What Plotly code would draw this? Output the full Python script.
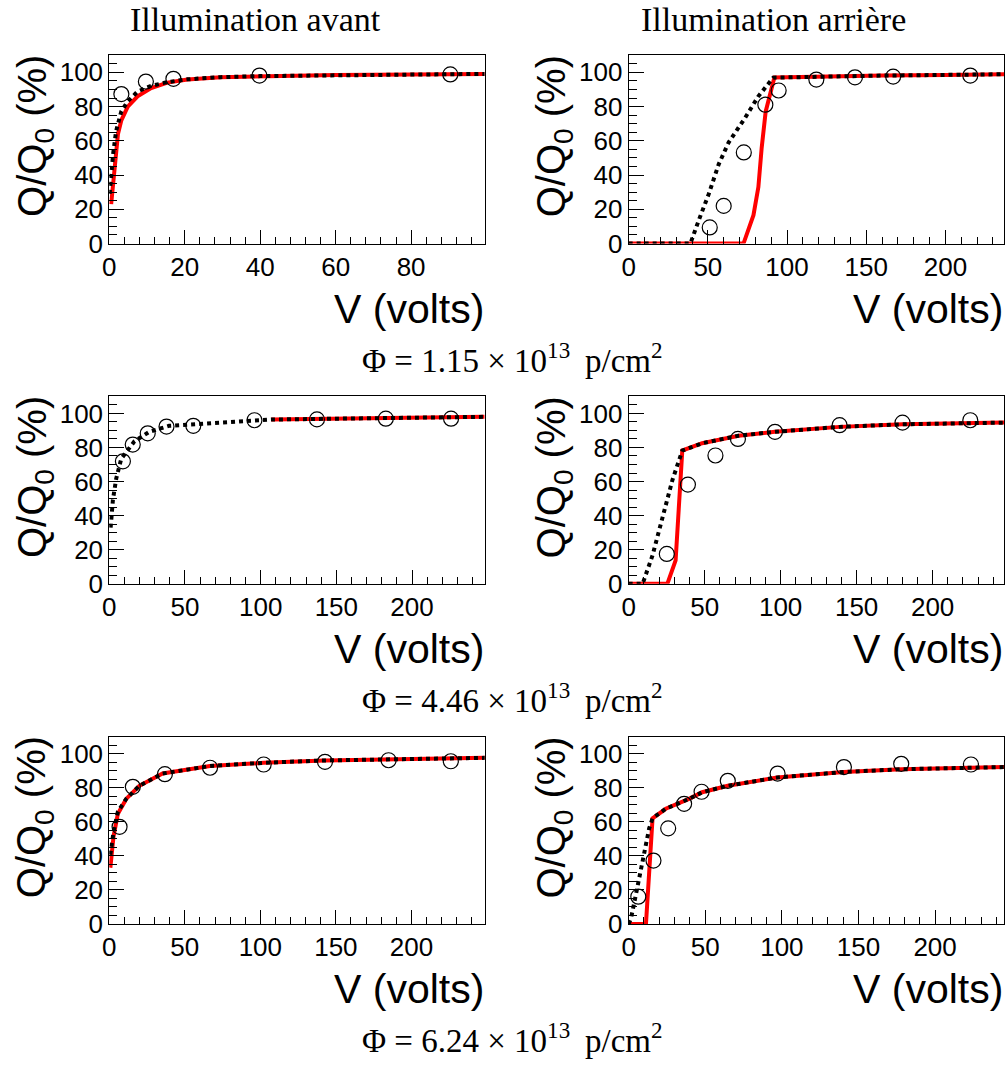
import plotly.graph_objects as go

W, H = 1008, 1074

# ---------------- data ----------------
col_titles = ["Illumination avant", "Illumination arrière"]
fluences = ["1.15", "4.46", "6.24"]

# Row 1, front
A_data_V = [3.2, 9.7, 17.0, 39.8, 90.4]
A_data_Q = [87.3, 94.6, 96.2, 98.1, 98.8]
A_red_V = [0.5, 1.6, 2.3, 3.2, 4.9, 7.5, 11.1, 15.4, 20.7, 29.5, 40, 60, 80, 99.5]
A_red_Q = [23, 50, 64, 72, 80, 86, 90.8, 94, 95.8, 97.2, 97.8, 98.4, 98.8, 99.1]
A_blk_V = [0.1, 0.5, 1.0, 1.8, 3.2, 4.9, 7.5, 11.1, 15.4, 20.7, 29.5, 40, 60, 80, 99.5]
A_blk_Q = [29, 40.6, 52, 65.7, 77.3, 83.1, 88.8, 92.1, 94.3, 95.9, 97.2, 97.8, 98.4, 98.8, 99.1]

# Row 1, rear
B_data_V = [51.2, 60.0, 72.7, 86.3, 94.7, 118.5, 142.9, 167, 215.7]
B_data_Q = [9.4, 22.0, 53.2, 81.1, 89.4, 95.8, 97.1, 97.5, 98.1]
B_red_V = [0, 72.5, 78.8, 81.9, 84.0, 86.5, 92, 120, 160, 200, 237]
B_red_Q = [0, 0, 16.6, 33, 56, 77, 97, 97.6, 98.1, 98.5, 98.9]
B_blk_V = [0, 39, 44.3, 50.6, 56.9, 63.1, 73.5, 81.9, 91.3, 120, 160, 200, 237]
B_blk_Q = [0, 0, 13.7, 29, 46.4, 59, 73.4, 86, 96.9, 97.6, 98.1, 98.5, 98.9]

# Row 2, front
C_data_V = [9.0, 15.5, 25.4, 37.8, 55.5, 95.9, 137.2, 182.7, 225.8]
C_data_Q = [71.9, 81.7, 88.3, 92.3, 92.7, 96.0, 96.5, 96.9, 96.9]
C_red_V = [107, 150, 200, 248]
C_red_Q = [96.4, 96.9, 97.4, 98.0]
C_blk_V = [0.9, 2.4, 4.6, 7.9, 16.6, 26.4, 39.5, 54.9, 96, 107, 150, 200, 248]
C_blk_Q = [33, 49.3, 61.8, 73.4, 83.6, 89.2, 92.7, 93.6, 96.2, 96.4, 96.9, 97.4, 98.0]

# Row 2, rear
D_data_V = [25.1, 39.0, 57.1, 71.9, 96.3, 138.8, 180.2, 224.8]
D_data_Q = [17.5, 58.2, 75.3, 85.0, 89.2, 93.1, 94.6, 96.0]
D_red_V = [0, 25.5, 30.9, 35.3, 48.4, 72.3, 96.3, 138.8, 180.2, 247]
D_red_Q = [0, 0, 13.7, 78.2, 82.5, 86.9, 89.2, 92.1, 93.6, 94.6]
D_blk_V = [0, 9.2, 15.7, 22.2, 28.8, 35.3, 48.4, 72.3, 96.3, 138.8, 180.2, 247]
D_blk_Q = [0, 0, 16.6, 39.7, 60.9, 78.2, 82.5, 86.9, 89.2, 92.1, 93.6, 94.6]

# Row 3, front
E_data_V = [6.8, 15.6, 36.8, 66.7, 102.2, 142.8, 184.9, 226.1]
E_data_Q = [57.0, 80.5, 87.9, 91.7, 93.6, 95.2, 96.1, 95.5]
E_red_V = [0.7, 2.8, 5.7, 11.2, 19.9, 35.3, 66.7, 102.2, 142.8, 184.9, 248.7]
E_red_Q = [33, 51.3, 64.7, 73.4, 81.1, 88.3, 92.7, 94.6, 96.0, 96.5, 97.5]
E_blk_V = [0.7, 2.8, 5.7, 11.2, 19.9, 35.3, 66.7, 102.2, 142.8, 184.9, 248.7]
E_blk_Q = [40.6, 54, 66, 73.4, 81.1, 88.3, 92.7, 94.6, 96.0, 96.5, 97.5]

# Row 3, rear
F_data_V = [6.3, 16.2, 25.8, 36.2, 47.6, 64.7, 97.2, 140.5, 177.9, 223.4]
F_data_Q = [16.0, 37.2, 56.1, 70.5, 77.6, 84.0, 88.3, 92.1, 94.0, 93.6]
F_red_V = [0, 11.3, 15.6, 24.2, 39.4, 48, 64.7, 97, 140.5, 177.9, 245]
F_red_Q = [0, 0, 62, 67.6, 73.4, 77.3, 81.1, 86.0, 89.2, 90.8, 92.1]
F_blk_V = [0, 1.5, 4.8, 8.0, 11.3, 13.4, 15.6, 24.2, 39.4, 48, 64.7, 97, 140.5, 177.9, 245]
F_blk_Q = [0, 3.1, 17.5, 31, 46.4, 56.1, 62, 67.6, 73.4, 77.3, 81.1, 86.0, 89.2, 90.8, 92.1]

x_max = [99.5, 237, 248, 247, 248.5, 245]
x_major = [20, 50, 50, 50, 50, 50]
x_minor = [4, 10, 10, 10, 10, 10]

panels = [
    (A_data_V, A_data_Q, A_red_V, A_red_Q, A_blk_V, A_blk_Q),
    (B_data_V, B_data_Q, B_red_V, B_red_Q, B_blk_V, B_blk_Q),
    (C_data_V, C_data_Q, C_red_V, C_red_Q, C_blk_V, C_blk_Q),
    (D_data_V, D_data_Q, D_red_V, D_red_Q, D_blk_V, D_blk_Q),
    (E_data_V, E_data_Q, E_red_V, E_red_Q, E_blk_V, E_blk_Q),
    (F_data_V, F_data_Q, F_red_V, F_red_Q, F_blk_V, F_blk_Q),
]

# ---------------- layout geometry (pixels) ----------------
col_px = [(103, 481), (626, 1004)]
row_px = [(56, 247), (402, 592), (747, 937)]

def px_x(p):
    return p / W

def px_y(p):
    return 1 - p / H

SANS = "Liberation Sans, Arial, sans-serif"
SERIF = "Liberation Serif, Times New Roman, serif"

fig = go.Figure()
layout = dict(
    width=W, height=H,
    margin=dict(l=0, r=0, t=0, b=0),
    paper_bgcolor="white", plot_bgcolor="white",
    showlegend=False,
)
annotations = []

for i, (dv, dq, rv, rq, bv, bq) in enumerate(panels):
    r, c = divmod(i, 2)
    n = i + 1
    xa = "x" if n == 1 else f"x{n}"
    ya = "y" if n == 1 else f"y{n}"
    fig.add_trace(go.Scatter(x=rv, y=rq, mode="lines", xaxis=xa, yaxis=ya,
                             line=dict(color="#ff0000", width=4)))
    fig.add_trace(go.Scatter(x=bv, y=bq, mode="lines", xaxis=xa, yaxis=ya,
                             line=dict(color="black", width=4, dash="dot")))
    fig.add_trace(go.Scatter(x=dv, y=dq, mode="markers", xaxis=xa, yaxis=ya,
                             marker=dict(symbol="circle-open", size=15,
                                         color="black", line=dict(width=1.2, color="black"))))
    x0, x1 = col_px[c]
    y0, y1 = row_px[r]
    xkey = "xaxis" if n == 1 else f"xaxis{n}"
    ykey = "yaxis" if n == 1 else f"yaxis{n}"
    layout[xkey] = dict(
        domain=[px_x(x0), px_x(x1)], anchor=ya, range=[0, x_max[i]],
        showline=True, mirror=True, linecolor="black", linewidth=1,
        ticks="inside", ticklen=14, tickwidth=1, tickcolor="black",
        tick0=0, dtick=x_major[i],
        minor=dict(ticks="inside", ticklen=7, tickwidth=1, tickcolor="black",
                   tick0=0, dtick=x_minor[i], showgrid=False),
        showgrid=False, zeroline=False,
        tickfont=dict(family=SANS, size=26, color="black"),
        fixedrange=True,
    )
    layout[ykey] = dict(
        domain=[px_y(y1), px_y(y0)], anchor=xa, range=[0, 110],
        showline=True, mirror=True, linecolor="black", linewidth=1,
        ticks="inside", ticklen=15, tickwidth=1, tickcolor="black",
        tick0=0, dtick=20,
        minor=dict(ticks="inside", ticklen=8, tickwidth=1, tickcolor="black",
                   tick0=0, dtick=5, showgrid=False),
        showgrid=False, zeroline=False,
        tickfont=dict(family=SANS, size=26, color="black"),
        fixedrange=True,
    )
    # x title (right aligned at axis end)
    annotations.append(dict(
        text="V (volts)", xref="paper", yref="paper",
        x=px_x(x1 + 1), y=px_y(y1 + 66), xanchor="right", yanchor="middle",
        showarrow=False, font=dict(family=SANS, size=41, color="black")))
    # y title (rotated)
    annotations.append(dict(
        text="Q/Q<sub>0</sub> (%)", xref="paper", yref="paper",
        x=px_x(x0 - 75), y=px_y(y0 + 82), xanchor="center", yanchor="middle",
        textangle=-90, showarrow=False,
        font=dict(family=SANS, size=40, color="black")))

# column titles
for c, t in enumerate(col_titles):
    cx = [250, 772][c]
    annotations.append(dict(
        text=t, xref="paper", yref="paper", x=px_x(cx), y=px_y(20),
        xanchor="center", yanchor="middle", showarrow=False,
        font=dict(family=SERIF, size=34, color="black")))

# fluence labels
for r, f in enumerate(fluences):
    cy = [363, 708, 1053][r]
    annotations.append(dict(
        text=f"Φ\u00a0=\u00a0{f}\u00a0×\u00a010<sup>13</sup>\u00a0\u2009p/cm<sup>2</sup>",
        xref="paper", yref="paper", x=px_x(509), y=px_y(cy),
        xanchor="center", yanchor="middle", showarrow=False,
        font=dict(family=SERIF, size=33, color="black")))

layout["annotations"] = annotations
fig.update_layout(**layout)
fig.write_html(
    "out.html",
    config={"displayModeBar": False, "staticPlot": True},
    post_script="document.body.style.margin='0';document.body.style.overflow='hidden';",
)
